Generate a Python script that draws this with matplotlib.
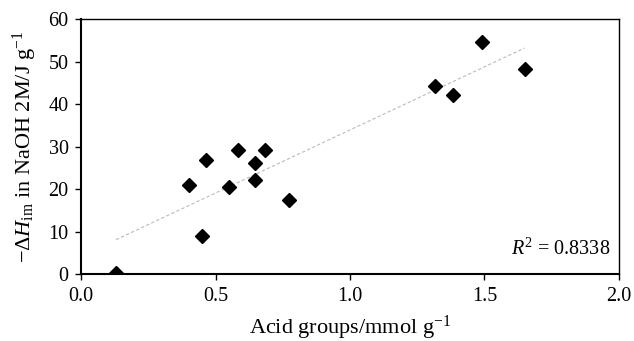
import numpy as np
import matplotlib.pyplot as plt

plt.rcParams['font.family'] = 'Liberation Serif'
plt.rcParams['mathtext.fontset'] = 'custom'
plt.rcParams['mathtext.rm'] = 'Liberation Serif'
plt.rcParams['mathtext.it'] = 'Liberation Serif:italic'

# acid groups (mmol/g) and immersion enthalpy (J/g)
acid = [0.13, 0.40, 0.465, 0.45, 0.55, 0.585, 0.645, 0.645, 0.683, 0.772,
        1.315, 1.384, 1.492, 1.649]
dH = [0.3, 20.9, 26.9, 9.0, 20.5, 29.2, 26.1, 22.1, 29.2, 17.4,
      44.3, 42.2, 54.6, 48.2]

x_ticks = [0.0, 0.5, 1.0, 1.5, 2.0]
y_ticks = [0, 10, 20, 30, 40, 50, 60]

fig = plt.figure(figsize=(6.34, 3.41), dpi=100)
ax = fig.add_axes([0.1278, 0.1956, 0.8485, 0.7487])

# linear trend line
k, b = np.polyfit(acid, dH, 1)
xl = np.array([min(acid), max(acid)])
ax.plot(xl, k*xl + b, color='#bbbbbb', linestyle='--', linewidth=0.8, dashes=(3, 2))

ax.plot(acid, dH, 'D', color='black', markersize=7)

ax.set_xlim(0, 2.0)
ax.set_ylim(0, 60)
ax.set_xticks(x_ticks)
ax.set_xticklabels(['%.1f' % t for t in x_ticks])
ax.set_yticks(y_ticks)
ax.tick_params(direction='out', length=4, width=1, labelsize=14.5, pad=5)
for s in ax.spines.values():
    s.set_linewidth(1.0)
ax.spines['left'].set_linewidth(1.5)
ax.spines['bottom'].set_linewidth(1.5)

ax.set_xlabel(r'Acid groups/mmol g$^{-1}$', fontsize=16, labelpad=6)
ax.set_ylabel(r'$-\Delta \mathit{H}_{\mathrm{im}}$ in NaOH 2M/J g$^{-1}$', fontsize=16, labelpad=7)
ax.text(0.983, 0.075, r'$\mathit{R}^2$ = 0.8338', transform=ax.transAxes,
        ha='right', va='baseline', fontsize=14.5)

fig.savefig('out.png', dpi=100)
